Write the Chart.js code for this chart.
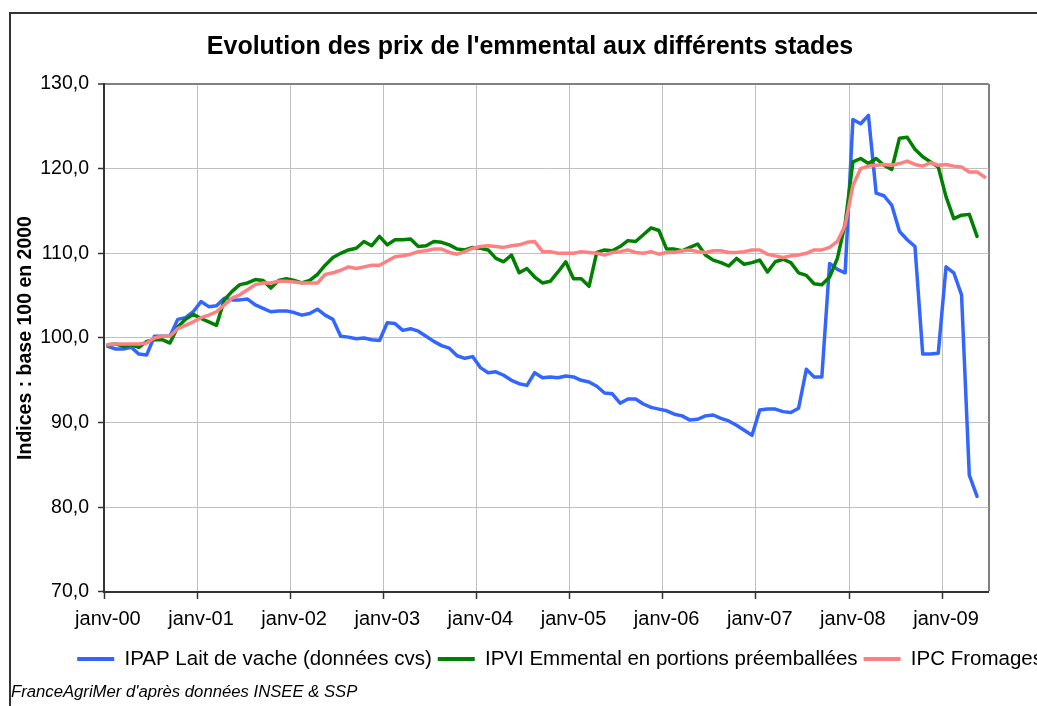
<!DOCTYPE html>
<html>
<head>
<meta charset="utf-8">
<script src="https://cdn.jsdelivr.net/npm/chart.js@4.4.1/dist/chart.umd.min.js"></script>
<style>
  html, body { margin: 0; padding: 0; overflow: hidden; background: #fff; width: 1037px; height: 706px; }
  #frame { position: absolute; left: 9px; top: 12px; width: 2000px; height: 2000px;
           border-left: 2px solid #333; border-top: 2px solid #333; }
  #c { position: absolute; left: 0; top: 0; }
</style>
</head>
<body>
<div id="frame"></div>
<canvas id="c" width="1049" height="706"></canvas>
<script>
// ---------- DATA ----------
const monthNames = ['janv','févr','mars','avr','mai','juin','juil','août','sept','oct','nov','déc'];
const years = ['00','01','02','03','04','05','06','07','08','09'];
const nMonths = 114; // janv-00 .. juin-09
const categories = [];
for (let k = 0; k < nMonths; k++) {
  categories.push(monthNames[k % 12] + '-' + years[Math.floor(k / 12)]);
}

const seriesNames = [
  'IPAP Lait de vache (données cvs)',
  'IPVI Emmental en portions préemballées',
  'IPC Fromages'
];

const ipapLait = [
  99.0, 98.7, 98.7, 98.9, 98.1, 98.0, 100.2, 100.2, 100.2, 102.2, 102.4, 103.1,
  104.3, 103.7, 103.8, 104.7, 104.5, 104.5, 104.6, 103.9, 103.5, 103.1, 103.2, 103.2,
  103.0, 102.7, 102.9, 103.4, 102.7, 102.2, 100.2, 100.1, 99.9, 100.0, 99.8, 99.7,
  101.8, 101.7, 100.9, 101.1, 100.8, 100.2, 99.6, 99.1, 98.8, 97.9, 97.6, 97.8,
  96.5, 95.9, 96.0, 95.6, 95.0, 94.6, 94.4, 95.9, 95.3, 95.4, 95.3, 95.5,
  95.4, 95.0, 94.8, 94.3, 93.5, 93.4, 92.3, 92.8, 92.8, 92.2, 91.8, 91.6,
  91.4, 91.0, 90.8, 90.3, 90.4, 90.8, 90.9, 90.5, 90.2, 89.7, 89.1, 88.5,
  91.5, 91.6, 91.6, 91.3, 91.2, 91.7, 96.3, 95.4, 95.4, 108.8, 108.1, 107.7,
  125.8, 125.3, 126.3, 117.1, 116.8, 115.7, 112.6, 111.6, 110.8, 98.1, 98.1, 98.2,
  108.4, 107.7, 105.1, 83.8, 81.3, null
];

const ipviEmmental = [
  99.2, 99.3, 99.0, 99.2, 98.9, 99.6, 99.8, 99.8, 99.4, 101.3, 102.2, 102.8,
  102.3, 101.9, 101.5, 104.5, 105.5, 106.3, 106.5, 106.9, 106.8, 105.9, 106.8, 107.0,
  106.8, 106.5, 106.8, 107.5, 108.6, 109.5, 110.0, 110.4, 110.6, 111.4, 110.9, 112.0,
  111.0, 111.6, 111.6, 111.7, 110.8, 110.9, 111.4, 111.3, 111.0, 110.5, 110.4, 110.7,
  110.6, 110.4, 109.4, 109.0, 109.8, 107.7, 108.2, 107.2, 106.5, 106.7, 107.8, 109.0,
  107.0, 107.0, 106.1, 110.1, 110.4, 110.3, 110.8, 111.5, 111.4, 112.2, 113.0, 112.7,
  110.5, 110.5, 110.3, 110.7, 111.1, 109.8, 109.2, 108.9, 108.5, 109.4, 108.7, 108.9,
  109.2, 107.8, 109.0, 109.3, 108.9, 107.7, 107.4, 106.4, 106.3, 107.2, 109.4, 113.5,
  120.8, 121.2, 120.6, 121.2, 120.4, 119.9, 123.6, 123.7, 122.3, 121.4, 120.8, 120.2,
  116.7, 114.1, 114.5, 114.6, 112.0, null
];

const ipcFromages = [
  99.2, 99.3, 99.3, 99.3, 99.3, 99.4, 100.0, 100.2, 100.2, 101.1, 101.5, 101.9,
  102.4, 102.7, 103.1, 103.9, 104.7, 105.1, 105.7, 106.3, 106.5, 106.5, 106.7, 106.7,
  106.6, 106.5, 106.5, 106.5, 107.5, 107.7, 108.0, 108.4, 108.2, 108.4, 108.6, 108.6,
  109.1, 109.6, 109.7, 109.9, 110.2, 110.3, 110.5, 110.5, 110.1, 109.9, 110.2, 110.6,
  110.8, 110.9, 110.8, 110.7, 110.9, 111.0, 111.3, 111.4, 110.2, 110.2, 110.0, 110.0,
  110.0, 110.2, 110.1, 110.0, 109.8, 110.1, 110.2, 110.4, 110.1, 110.0, 110.2, 109.9,
  110.1, 110.1, 110.3, 110.4, 110.2, 110.1, 110.3, 110.3, 110.1, 110.1, 110.2, 110.4,
  110.4, 109.9, 109.7, 109.5, 109.7, 109.8, 110.0, 110.4, 110.4, 110.7, 111.4, 113.3,
  118.0, 120.0, 120.3, 120.4, 120.5, 120.4, 120.6, 120.9, 120.5, 120.3, 120.7, 120.4,
  120.5, 120.3, 120.2, 119.6, 119.6, 119.0
];

const yTickMin = 70;
const yTickMax = 130;
const yTickStep = 10;
const labelEvery = 12;

// ---------- STYLE ----------
const FONT = "'Liberation Sans', Arial, sans-serif";
const lineColors = ['#3366FF', '#008000', '#FF8080'];
const gridColor = '#c0c0c0';
const frameColor = '#808080';
const axisColor = '#333333';

Chart.defaults.font.family = FONT;
Chart.defaults.color = '#000';

const chart = new Chart(document.getElementById('c'), {
  type: 'line',
  data: {
    labels: categories,
    datasets: [
      { label: seriesNames[0], data: ipapLait, borderColor: lineColors[0], backgroundColor: lineColors[0], order: 3 },
      { label: seriesNames[1], data: ipviEmmental, borderColor: lineColors[1], backgroundColor: lineColors[1], order: 2 },
      { label: seriesNames[2], data: ipcFromages, borderColor: lineColors[2], backgroundColor: lineColors[2], order: 1 }
    ]
  },
  options: {
    responsive: false,
    animation: false,
    events: [],
    elements: {
      line: { borderWidth: 3.5, tension: 0, borderJoinStyle: 'round', borderCapStyle: 'round' },
      point: { radius: 0, hoverRadius: 0 }
    },
    layout: { padding: { left: 11, right: 0, top: 0, bottom: 0 } },
    scales: {
      x: {
        type: 'category',
        offset: true,
        grid: {
          offset: true,
          drawTicks: true,
          tickLength: 7,
          lineWidth: ctx => (ctx.index === undefined ? 2 : 1),
          color: ctx => (ctx.index === undefined ? frameColor : (ctx.index % labelEvery === 0 ? gridColor : 'rgba(0,0,0,0)')),
          tickColor: ctx => (ctx.index !== undefined && ctx.index % labelEvery === 0 ? axisColor : 'rgba(0,0,0,0)'),
          tickWidth: 1.5
        },
        border: { display: true, color: axisColor, width: 2 },
        ticks: {
          autoSkip: false,
          maxRotation: 0,
          minRotation: 0,
          padding: 9,
          font: { size: 20 },
          color: '#000',
          callback: function (v, i) { return i % labelEvery === 0 ? this.getLabelForValue(v) : ''; }
        },
        afterFit: s => { s.height = 50.75; }
      },
      y: {
        min: yTickMin,
        max: yTickMax,
        grid: {
          color: ctx => (ctx.tick && ctx.tick.value === yTickMax ? frameColor : gridColor),
          lineWidth: ctx => (ctx.tick && ctx.tick.value === yTickMax ? 2 : 1),
          tickLength: 6,
          tickColor: axisColor,
          tickWidth: 1.5
        },
        border: { display: true, color: axisColor, width: 2 },
        ticks: {
          stepSize: yTickStep,
          padding: 9,
          font: { size: 19.5 },
          color: '#000',
          callback: v => v.toFixed(1).replace('.', ',')
        },
        title: {
          display: true,
          text: 'Indices : base 100 en 2000',
          font: { size: 19.5, weight: 'bold' },
          color: '#000',
          padding: { top: 3, bottom: 0 }
        },
        afterFit: s => { s.width = 93; }
      },
      yR: {
        type: 'linear',
        position: 'right',
        display: true,
        grid: { display: false, drawTicks: false },
        border: { display: false },
        ticks: { display: false },
        afterFit: s => { s.width = 60.3; }
      }
    },
    plugins: {
      title: {
        display: true,
        text: "Evolution des prix de l'emmental aux différents stades",
        font: { size: 25, weight: 'bold' },
        color: '#000',
        padding: { top: 32, bottom: 22 }
      },
      legend: {
        display: true,
        position: 'bottom',
        align: 'end',
        labels: {
          boxWidth: 37,
          boxHeight: 4,
          padding: 6,
          font: { size: 20.5 },
          color: '#000',
          sort: (a, b) => a.datasetIndex - b.datasetIndex,
          generateLabels: ch => Chart.defaults.plugins.legend.labels.generateLabels(ch)
            .map(l => Object.assign(l, { fillStyle: l.strokeStyle, lineWidth: 0 }))
        }
      },
      subtitle: {
        display: true,
        position: 'bottom',
        align: 'start',
        text: "FranceAgriMer d'après données INSEE & SSP",
        font: { size: 16.7, style: 'italic' },
        color: '#000',
        padding: { top: 3, bottom: 3.75 }
      },
      tooltip: { enabled: false }
    }
  }
});
</script>
</body>
</html>
